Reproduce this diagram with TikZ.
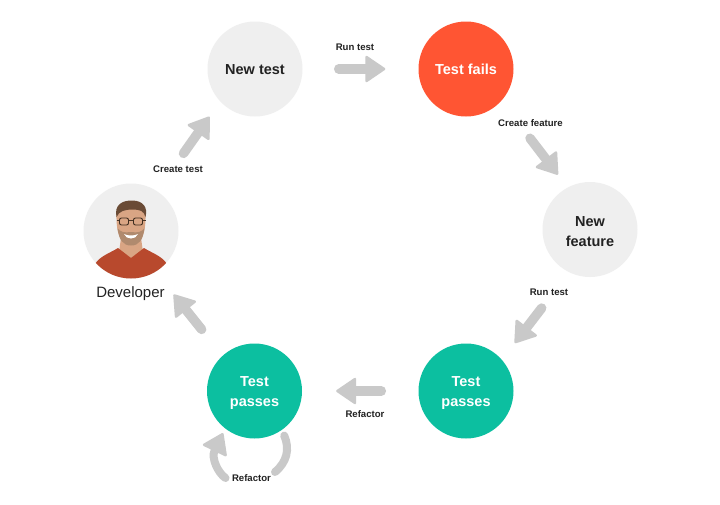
\documentclass[tikz,border=0pt]{standalone}
\usepackage{fontspec}
\setmainfont{Liberation Sans}
\usetikzlibrary{arrows.meta}
\definecolor{cgrey}{HTML}{EFEFEF}
\definecolor{cred}{HTML}{FF5533}
\definecolor{cteal}{HTML}{0CBFA0}
\definecolor{carrow}{HTML}{C9C9C9}
\definecolor{cink}{HTML}{222222}
\definecolor{cshirt}{HTML}{B8492D}
\definecolor{cskin}{HTML}{D9A584}
\definecolor{chair}{HTML}{6A4B36}
\definecolor{cbeard}{HTML}{B08A6E}
\newcommand{\lowone}{\rule{0pt}{12pt}}
\newcommand{\lowtwo}{\rule{0pt}{14pt}}
\tikzset{
  stage/.style={circle,draw=none,minimum size=95pt,inner sep=0pt,align=center,font=\fontsize{14.5}{20}\selectfont\bfseries},
  lightstage/.style={stage,fill=cgrey,text=cink},
  redstage/.style={stage,fill=cred,text=white},
  tealstage/.style={stage,fill=cteal,text=white},
  bighead/.style={-{Triangle[width=28pt,length=21pt,round,line width=2.5pt]}},
  flow/.style={draw=carrow,line width=9.5pt,line cap=round,bighead},
  loopflow/.style={draw=carrow,line width=8pt,line cap=round},
  caption/.style={inner sep=0pt,text=cink,font=\fontsize{9.6}{11}\selectfont\bfseries},
}
\begin{document}
\begin{tikzpicture}[x=1pt,y=-1pt]
\useasboundingbox (0,0) rectangle (720,504);
\fill[white] (0,0) rectangle (720,504);
\node[lightstage] (newtest) at (255,69) {\lowone New test};
\node[redstage] (fails) at (466,69) {\lowone Test fails};
\node[lightstage] (feature) at (590,229.5) {\lowtwo New\\feature};
\node[tealstage] (passr) at (466,391) {\lowtwo Test\\passes};
\node[tealstage] (passl) at (254.5,391) {\lowtwo Test\\passes};
\node[circle,fill=cgrey,minimum size=95pt,inner sep=0pt] (dev) at (131,231) {};
\begin{scope}
  \clip (131,231) circle[radius=47.5];
  \fill[cskin] (121,238) -- (141,238) -- (143,252) -- (131,260) -- (119,252) -- cycle;
  \fill[cshirt] (93,282) -- (95,264) .. controls (100,256) and (110,253) .. (118,248) -- (131,258) -- (144,248) .. controls (152,253) and (162,256) .. (167,264) -- (169,282) -- cycle;
  \fill[cskin] (116.5,214) .. controls (116,234) and (121,245.5) .. (131,245.5) .. controls (141,245.5) and (146,234) .. (145.5,214) .. controls (143,205) and (119,205) .. (116.5,214) -- cycle;
  \fill[cbeard] (117.5,228) .. controls (119,240) and (123,245.5) .. (131,245.5) .. controls (139,245.5) and (143,240) .. (144.5,228) .. controls (142,232) and (138,233) .. (131,232) .. controls (124,233) and (120,232) .. (117.5,228) -- cycle;
  \fill[white] (124,234) .. controls (128,236) and (134,236) .. (138,234) .. controls (136,240) and (126,240) .. (124,234) -- cycle;
  \fill[chair] (116.5,217) .. controls (114,205) and (122,200) .. (133,200.5) .. controls (143,201) and (148,207) .. (145.5,217) .. controls (144,211) and (140,209.5) .. (133,209.5) .. controls (125,209.5) and (119,211) .. (116.5,217) -- cycle;
  \draw[chair!70!black,line width=.9pt] (116.5,220) -- (120,220) (128,220) -- (134,220) (142,220) -- (145.5,220);
  \draw[chair!60!black,line width=.9pt,rounded corners=2pt] (119.5,218) rectangle (128.5,225);
  \draw[chair!60!black,line width=.9pt,rounded corners=2pt] (133.5,218) rectangle (142.5,225);
\end{scope}
\node[inner sep=0pt,text=cink,font=\fontsize{15}{17}\selectfont] (devlabel) at (130.5,293.5) {Developer};

\draw[flow,shorten <=36pt,shorten >=33pt] (newtest.east) -- (fails.west);
\draw[flow,shorten <=47pt,shorten >=16pt] (fails.-42.9) -- (feature.118.4);
\draw[flow,shorten <=45pt,shorten >=21pt] (feature.244.9) -- (passr.41.2);
\draw[flow,shorten <=37pt,shorten >=34pt] (passr.west) -- (passl.east);
\draw[flow,shorten <=33.5pt,shorten >=29pt] (passl.132.2) -- (dev.-59.2);
\draw[flow,shorten <=46pt,shorten >=18.5pt] (dev.57) -- (newtest.223.1);

\coordinate (loopa) at (275,472);
\coordinate (loopb) at (225.5,478);
\draw[loopflow,shorten <=6pt] (passl.-55) .. controls (290,449) and (287,462) .. (loopa);
\draw[loopflow,bighead,shorten >=5pt] (loopb) .. controls (218,473) and (211,458) .. (passl.232);

\node[caption] (c1) at (355,47.5) {Run test};
\node[caption] (c2) at (530.5,123.5) {Create feature};
\node[caption] (c3) at (549,292) {Run test};
\node[caption] (c4) at (365,414.5) {Refactor};
\node[caption] (c5) at (178,169) {Create test};
\node[caption] (c6) at (251.5,478.5) {Refactor};
\end{tikzpicture}
\end{document}
